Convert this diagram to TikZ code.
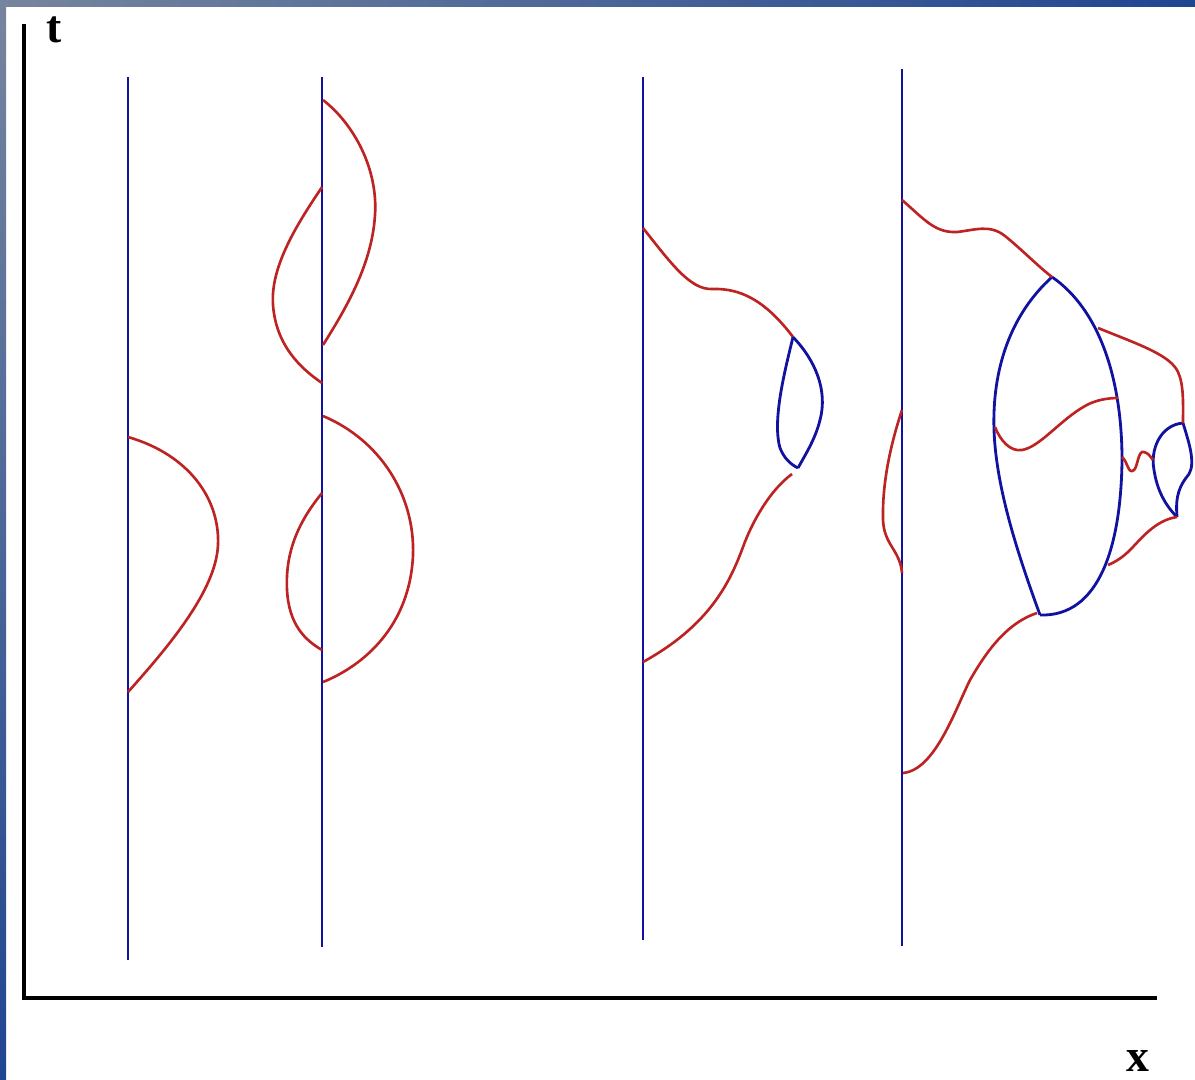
\documentclass[tikz,border=0pt]{standalone}
\usepackage{fontspec}
\setmainfont{Liberation Serif}
\usepackage{tikz}
\usetikzlibrary{calc}
\definecolor{LineBlue}{RGB}{18,18,160}
\definecolor{CurveRed}{RGB}{190,35,35}
\definecolor{FrameGray}{RGB}{118,133,158}
\definecolor{FrameBlue}{RGB}{32,70,145}
\begin{document}
\begin{tikzpicture}[x=0.01cm,y=-0.01cm,
	worldline/.style={line width=0.8pt, LineBlue},
	loopline/.style={line width=0.8pt, LineBlue, line join=round},
	redline/.style={line width=0.75pt, CurveRed},
	axisline/.style={line width=1.2pt, black},
	axislabel/.style={font=\fontsize{13}{15}\selectfont\bfseries, inner sep=0pt}]
			\useasboundingbox (0,0) rectangle (1195,1079);
			\shade[left color=FrameGray, right color=FrameBlue] (0,0) rectangle (1195,7);
			\shade[top color=FrameGray, bottom color=FrameBlue] (0,0) rectangle (6,1079);
			
			\coordinate (O) at (24,998);
			\coordinate (T) at (24,24);
			\coordinate (X) at (1157,998);
			\draw[axisline] (T) -- (O) -- (X);
			\node[axislabel] (tlab) at (54,30) {t};
			\node[axislabel] (xlab) at (1138,1061) {x};
			
			\coordinate (A1) at (128,77);  \coordinate (A2) at (128,960);
			\coordinate (B1) at (322,77);  \coordinate (B2) at (322,947);
			\coordinate (C1) at (643,77);  \coordinate (C2) at (643,940);
			\coordinate (D1) at (902,69);  \coordinate (D2) at (902,946);
			\draw[worldline] (A1) -- (A2);
			\draw[worldline] (B1) -- (B2);
			\draw[worldline] (C1) -- (C2);
			\draw[worldline] (D1) -- (D2);
			
			% first line
			\draw[redline] (128,437) .. controls (190,455) and (220,500) .. (218,545) .. controls (216,590) and (170,645) .. (128,692);
			
			% second line
			\draw[redline] (323,100) .. controls (355,125) and (378,170) .. (375,215) .. controls (372,265) and (345,310) .. (323,345);
			\draw[redline] (322,187) .. controls (300,220) and (270,265) .. (273,305) .. controls (276,345) and (300,368) .. (322,383);
			\draw[redline] (323,416) .. controls (380,440) and (415,495) .. (413,555) .. controls (410,625) and (365,665) .. (323,682);
			\draw[redline] (322,493) .. controls (300,520) and (285,550) .. (287,590) .. controls (289,625) and (305,640) .. (322,650);
			
			% third line
			\coordinate (L1) at (793,337);
			\coordinate (L2) at (798,468);
			\draw[redline] (643,228) .. controls (670,262) and (690,290) .. (712,289) .. controls (740,288) and (765,300) .. (L1);
			\draw[loopline] (L1) .. controls (815,360) and (828,390) .. (820,420) .. controls (815,440) and (805,455) .. (L2);
			\draw[loopline] (L1) .. controls (785,370) and (772,420) .. (780,448) .. controls (784,458) and (790,464) .. (L2);
			\draw[redline] (792,474) .. controls (770,490) and (752,522) .. (743,547) .. controls (730,582) and (710,625) .. (643,662);
			
			% fourth line
			\coordinate (E1) at (1052,277);
			\coordinate (E2) at (1040,615);
			\coordinate (S1) at (1183,423);
			\coordinate (S2) at (1177,517);
			\draw[loopline] (E1) .. controls (1100,310) and (1122,380) .. (1122,460) .. controls (1121,545) and (1100,617) .. (E2);
			\draw[loopline] (E1) .. controls (1010,315) and (992,370) .. (994,430) .. controls (996,490) and (1020,560) .. (E2);
			\draw[loopline] (S1) .. controls (1160,425) and (1150,450) .. (1154,470) .. controls (1157,490) and (1165,505) .. (S2);
			\draw[loopline] (S1) .. controls (1188,440) and (1196,462) .. (1189,474) .. controls (1180,485) and (1175,495) .. (S2);
			\draw[redline] (902,200) .. controls (925,220) and (935,233) .. (957,232) .. controls (975,230) and (990,224) .. (1005,236) .. controls (1020,248) and (1040,268) .. (E1);
			\draw[redline] (1098,328) .. controls (1140,345) and (1170,355) .. (1178,372) .. controls (1184,385) and (1183,405) .. (S1);
			\draw[redline] (S2) .. controls (1155,520) and (1140,540) .. (1130,550) .. controls (1122,558) and (1115,562) .. (1108,565);
			\draw[redline] (1122,457) .. controls (1128,462) and (1128,475) .. (1134,470) .. controls (1138,466) and (1138,450) .. (1144,452) .. controls (1148,453) and (1150,456) .. (1153,460);
			\draw[redline] (995,427) .. controls (1000,440) and (1010,452) .. (1022,450) .. controls (1040,447) and (1060,420) .. (1085,406) .. controls (1095,400) and (1108,398) .. (1118,398);
			\draw[redline] (902,410) .. controls (892,440) and (882,480) .. (883,520) .. controls (884,545) and (900,550) .. (902,573);
			\draw[redline] (1037,613) .. controls (1010,622) and (990,645) .. (970,680) .. controls (955,710) and (935,770) .. (903,773);
		\end{tikzpicture}
\end{document}
